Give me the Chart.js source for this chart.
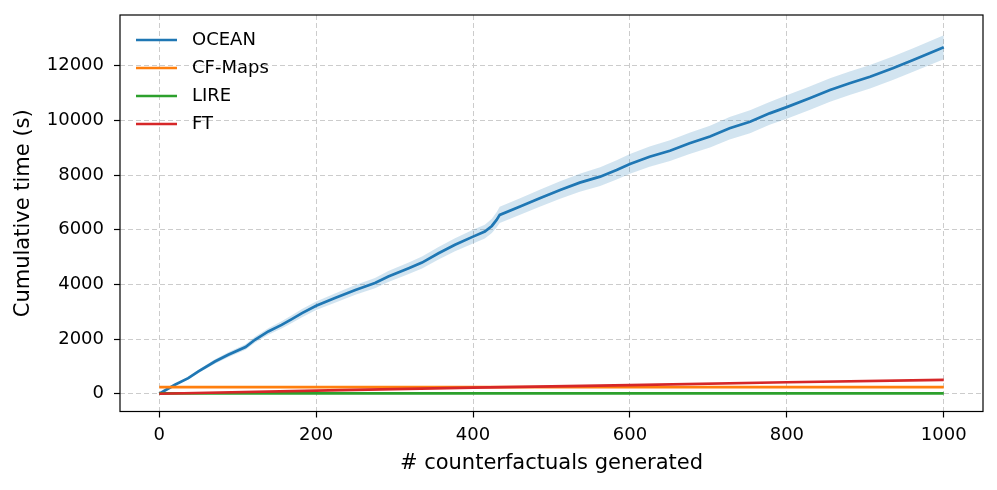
<!DOCTYPE html>
<html>
<head>
<meta charset="utf-8">
<script src="https://cdn.jsdelivr.net/npm/chart.js@4/dist/chart.umd.min.js"></script>
<style>
    html, body { margin: 0; padding: 0; background: #fff; }
    #wrap { width: 997px; height: 490px; position: relative; }
</style>
</head>
<body>
<div id="wrap"><canvas id="timeChart"></canvas></div>
<script>
// Valores
const oceanX = [0, 20, 37, 50, 71, 88, 110, 122, 139, 156, 169, 182, 200, 224, 250, 275, 292, 318, 335, 356,
    377, 400, 415, 424, 430, 434, 460, 485, 511, 536, 562, 583, 600, 625, 651, 676, 702, 727, 753, 778,
    799, 829, 855, 880, 906, 935, 961, 1000];
const oceanMean = [0, 330, 570, 815, 1180, 1425, 1707, 1975, 2280, 2520, 2730, 2950, 3220, 3500, 3800, 4050, 4290, 4595, 4800, 5140,
    5450, 5750, 5935, 6140, 6360, 6545, 6850, 7155, 7460, 7725, 7945, 8190, 8410, 8675, 8895, 9165, 9410, 9715, 9955, 10260,
    10480, 10810, 11115, 11360, 11600, 11910, 12210, 12680];
const oceanSpread = [0, 30, 50, 60, 80, 90, 100, 110, 120, 130, 140, 150, 160, 170, 180, 190, 200, 210, 220, 230,
    240, 250, 250, 260, 280, 300, 300, 310, 320, 330, 340, 350, 360, 370, 380, 390, 400, 410, 420, 420,
    430, 430, 430, 430, 430, 430, 430, 440];

const cfMapsX = [0, 1000];
const cfMapsY = [245, 245];
const lireX = [0, 1000];
const lireY = [15, 15];
const ftX = [0, 200, 400, 600, 800, 1000];
const ftY = [0, 115, 225, 315, 420, 505];

const xTicks = [0, 200, 400, 600, 800, 1000];
const yTicks = [0, 2000, 4000, 6000, 8000, 10000, 12000];

const FONT = 'DejaVu Sans';

const toPoints = (xs, ys) => xs.map((x, i) => ({ x: x, y: ys[i] }));

const legendItems = [
    { label: 'OCEAN', color: '#1f77b4' },
    { label: 'CF-Maps', color: '#ff7f0e' },
    { label: 'LIRE', color: '#2ca02c' },
    { label: 'FT', color: '#d62728' }
];

// Moldura e legenda desenhadas à mão (estilo matplotlib)
const frameAndLegend = {
    id: 'frameAndLegend',
    afterDraw(chart) {
        const { ctx, chartArea: a } = chart;
        ctx.save();
        ctx.strokeStyle = '#000';
        ctx.lineWidth = 1.2;
        ctx.strokeRect(a.left, a.top, a.right - a.left, a.bottom - a.top);

        ctx.font = '18px "' + FONT + '"';
        ctx.textBaseline = 'middle';
        ctx.fillStyle = '#000';
        legendItems.forEach((item, i) => {
            const y = a.top + 25 + i * 28;
            ctx.strokeStyle = item.color;
            ctx.lineWidth = 2.7;
            ctx.beginPath();
            ctx.moveTo(a.left + 16, y);
            ctx.lineTo(a.left + 57, y);
            ctx.stroke();
            ctx.fillText(item.label, a.left + 72, y);
        });
        ctx.restore();
    }
};

const lineStyle = (color) => ({
    borderColor: color,
    borderWidth: 2.7,
    pointRadius: 0,
    fill: false,
    tension: 0
});

new Chart(document.getElementById('timeChart'), {
    type: 'line',
    data: {
        datasets: [
            {
                label: 'band-low',
                data: toPoints(oceanX, oceanMean.map((m, i) => m - oceanSpread[i])),
                borderWidth: 0,
                pointRadius: 0,
                fill: false,
                order: 6
            },
            {
                label: 'band-high',
                data: toPoints(oceanX, oceanMean.map((m, i) => m + oceanSpread[i])),
                borderWidth: 0,
                pointRadius: 0,
                fill: '-1',
                backgroundColor: 'rgba(31, 119, 180, 0.2)',
                order: 5
            },
            { label: 'OCEAN', data: toPoints(oceanX, oceanMean), ...lineStyle('#1f77b4'), order: 4 },
            { label: 'CF-Maps', data: toPoints(cfMapsX, cfMapsY), ...lineStyle('#ff7f0e'), order: 3 },
            { label: 'LIRE', data: toPoints(lireX, lireY), ...lineStyle('#2ca02c'), order: 2 },
            { label: 'FT', data: toPoints(ftX, ftY), ...lineStyle('#d62728'), order: 1 }
        ]
    },
    options: {
        responsive: true,
        maintainAspectRatio: false,
        animation: false,
        layout: { padding: { left: 0, top: 15, right: 14, bottom: 0 } },
        plugins: {
            legend: { display: false },
            tooltip: { enabled: false }
        },
        scales: {
            x: {
                type: 'linear',
                min: -50,
                max: 1050,
                afterBuildTicks: (scale) => { scale.ticks = xTicks.map(v => ({ value: v })); },
                afterFit: (scale) => { scale.height = 78.5; scale.paddingLeft = 0; scale.paddingRight = 0; },
                grid: { color: '#cccccc', lineWidth: 1, tickLength: 6, tickColor: '#000', tickWidth: 1.2 },
                border: { display: false, dash: [5, 3] },
                ticks: { color: '#000', font: { family: FONT, size: 18 }, padding: 7, maxRotation: 0, callback: (v) => String(v) },
                title: {
                    display: true,
                    text: '# counterfactuals generated',
                    color: '#000',
                    font: { family: FONT, size: 21 },
                    padding: { top: 0, bottom: 14 }
                }
            },
            y: {
                type: 'linear',
                min: -650,
                max: 13860,
                afterBuildTicks: (scale) => { scale.ticks = yTicks.map(v => ({ value: v })); },
                afterFit: (scale) => { scale.width = 120; scale.paddingTop = 0; scale.paddingBottom = 0; },
                grid: { color: '#cccccc', lineWidth: 1, tickLength: 6, tickColor: '#000', tickWidth: 1.2 },
                border: { display: false, dash: [5, 3] },
                ticks: { color: '#000', font: { family: FONT, size: 18 }, padding: 10, callback: (v) => String(v) },
                title: {
                    display: true,
                    text: 'Cumulative time (s)',
                    color: '#000',
                    font: { family: FONT, size: 21 },
                    padding: { top: 11, bottom: 0 }
                }
            }
        }
    },
    plugins: [frameAndLegend]
});
</script>
</body>
</html>
